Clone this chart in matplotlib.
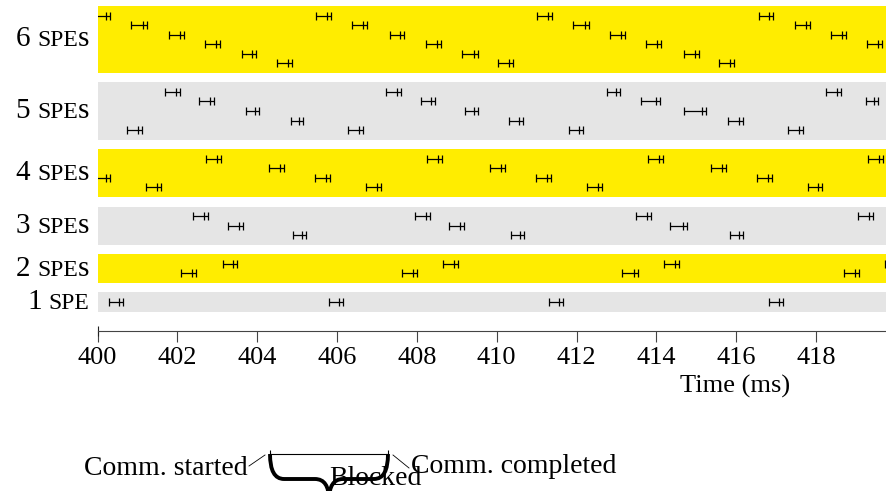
import numpy as np
import matplotlib
matplotlib.use("Agg")
import matplotlib.pyplot as plt
from matplotlib.path import Path
from matplotlib.patches import PathPatch
from matplotlib.offsetbox import TextArea, HPacker, AnnotationBbox

plt.rcParams['font.family'] = ['Liberation Serif', 'DejaVu Serif']

# communication intervals (start, completion) in ms, per SPE row (top row first)
spe6 = [
    [(399.95, 400.31), (405.47, 405.85), (411.00, 411.38), (416.56, 416.93)],
    [(400.84, 401.23), (406.38, 406.76), (411.92, 412.30), (417.48, 417.85)],
    [(401.78, 402.16), (407.32, 407.68), (412.84, 413.22), (418.38, 418.75)],
    [(402.69, 403.07), (408.23, 408.60), (413.74, 414.12), (419.29, 419.66)],
    [(403.62, 403.98), (409.14, 409.52), (414.69, 415.07)],
    [(404.50, 404.87), (410.03, 410.41), (415.57, 415.95)],
]
spe5 = [
    [(401.69, 402.06), (407.22, 407.60), (412.76, 413.09), (418.25, 418.63)],
    [(402.55, 402.91), (408.10, 408.46), (413.62, 414.10), (419.25, 419.55)],
    [(403.72, 404.05), (409.20, 409.54), (414.70, 415.25)],
    [(404.84, 405.15), (410.31, 410.65), (415.80, 416.18)],
    [(400.73, 401.10), (406.27, 406.64), (411.81, 412.15), (417.29, 417.67)],
]
spe4 = [
    [(402.71, 403.08), (408.25, 408.62), (413.78, 414.16), (419.31, 419.69)],
    [(404.29, 404.67), (409.83, 410.21), (415.37, 415.75)],
    [(399.95, 400.31), (405.45, 405.82), (410.99, 411.36), (416.52, 416.89)],
    [(401.21, 401.58), (406.72, 407.10), (412.26, 412.63), (417.79, 418.15)],
]
spe3 = [
    [(402.40, 402.77), (407.95, 408.33), (413.48, 413.87), (419.05, 419.44)],
    [(403.27, 403.65), (408.80, 409.18), (414.34, 414.76)],
    [(404.89, 405.22), (410.36, 410.69), (415.85, 416.18)],
]
spe2 = [
    [(403.13, 403.50), (408.65, 409.02), (414.18, 414.58), (419.73, 420.10)],
    [(402.09, 402.46), (407.62, 408.00), (413.13, 413.53), (418.69, 419.08)],
]
spe1 = [
    [(400.29, 400.64), (405.80, 406.16), (411.31, 411.67), (416.82, 417.18)],
]
bands = [spe1, spe2, spe3, spe4, spe5, spe6]
band_colors = ['#e5e5e5', '#ffed00']
xticks = np.arange(400, 419, 2)

fig = plt.figure(figsize=(8.87, 4.91), dpi=100)
ax = fig.add_axes([0.1101, 0.3265, 0.8899, 0.6613])

tail = 0.1  # small tail after the "done" marker
bottom = 0
for i, rows in enumerate(bands):
    n = len(rows)
    ax.axhspan(bottom, bottom + n + 1, color=band_colors[i % 2], lw=0, zorder=0)
    for r, marks in enumerate(rows):
        y = bottom + n - r
        st = np.array([m[0] for m in marks])
        en = np.array([m[1] for m in marks])
        mid = en - tail
        ax.errorbar(mid, np.full(len(mid), y), xerr=[mid - st, en - mid],
                    fmt='|', color='black', ms=6, mew=0.9, elinewidth=0.9,
                    capsize=3, capthick=0.9, zorder=3)
    # row label with small caps look
    num = TextArea(f"{n}", textprops=dict(size=21))
    spe = [TextArea("SPE", textprops=dict(size=17))]
    if n > 1:
        spe.append(TextArea("s", textprops=dict(size=21)))
    box = HPacker(children=[num, HPacker(children=spe, align="baseline", pad=0, sep=0)],
                  align="baseline", pad=0, sep=5)
    ab = AnnotationBbox(box, (400, bottom + (n + 1) / 2), xybox=(-6, 0),
                        xycoords='data', boxcoords='offset points',
                        box_alignment=(1, 0.5), frameon=False, annotation_clip=False)
    ax.add_artist(ab)
    bottom += n + 2

ax.set_xlim(400, 419.78)
ax.set_ylim(-2, 32)
for s in ['top', 'right', 'left']:
    ax.spines[s].set_visible(False)
ax.spines['bottom'].set_color('#444444')
ax.spines['bottom'].set_linewidth(0.8)
ax.set_yticks([])
ax.set_xticks(xticks)
ax.set_xticklabels([str(t) for t in xticks], fontsize=19)
ax.tick_params(axis='x', direction='out', length=8, width=0.8, color='#444444', pad=4)
ax.set_xticks([400], minor=True)
ax.xaxis.remove_overlapping_locs = False
ax.tick_params(axis='x', which='minor', direction='inout', length=7, width=0.8, color='#222222')
ax.set_xlabel('Time (ms)', fontsize=19)
ax.xaxis.set_label_coords(0.807, -0.135)

# key drawn below the chart, in pixel coordinates
lax = fig.add_axes([0, 0, 1, 1], facecolor='none')
lax.set_xlim(0, 887)
lax.set_ylim(491, 0)
lax.axis('off')
x0, x1, top = 270, 388, 454
lax.errorbar((x0 + x1) / 2, top, xerr=(x1 - x0) / 2, color='black', elinewidth=0.8,
             capsize=3, capthick=0.8)
xm, mid_y, tip = (x0 + x1) / 2, 479, 500
verts = [(x0, top), (x0, mid_y), (x0 + 14, mid_y), (xm - 14, mid_y), (xm, mid_y), (xm, tip),
         (xm, mid_y), (xm + 14, mid_y), (x1 - 14, mid_y), (x1, mid_y), (x1, top)]
codes = [Path.MOVETO, Path.CURVE3, Path.CURVE3, Path.LINETO, Path.CURVE3, Path.CURVE3,
         Path.CURVE3, Path.CURVE3, Path.LINETO, Path.CURVE3, Path.CURVE3]
lax.add_patch(PathPatch(Path(verts, codes), fill=False, lw=2.8, color='black'))
lax.plot([249, 265], [466, 455], color='black', lw=0.6)
lax.plot([393, 409], [455, 468], color='black', lw=0.6)
lax.text(248, 475, 'Comm. started', fontsize=20, ha='right', va='baseline')
lax.text(411, 473, 'Comm. completed', fontsize=20, ha='left', va='baseline')
lax.text(329, 485, 'Blocked', fontsize=20, ha='left', va='baseline')

fig.savefig('out.png', dpi=100)
